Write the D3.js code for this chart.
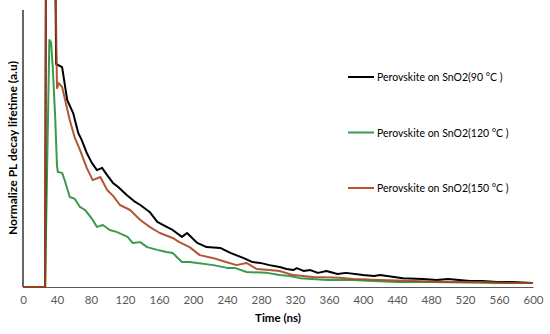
<!DOCTYPE html>
<html>
<head>
<meta charset="utf-8">
<script src="https://cdn.jsdelivr.net/npm/d3@7"></script>
<style>
  body { margin: 0; background: #fff; }
  text { font-family: Lato, "Open Sans", sans-serif; }
</style>
</head>
<body>
<script>
// time (ns) and normalized intensity
var blackT = [0, 26, 27, 38, 39, 46, 52, 59, 65, 69, 75, 81, 87, 93, 99, 106, 112, 122, 132, 138, 149, 158, 169, 176, 187, 193, 205, 216, 232, 244, 259, 270, 279, 290, 302, 310, 318, 322, 330, 338, 347, 357, 370, 380, 400, 413, 420, 447, 470, 487, 500, 526, 540, 558, 575, 600];
var blackV = [0, 0, 1.15, 1.15, 0.805, 0.794, 0.675, 0.628, 0.556, 0.531, 0.484, 0.448, 0.422, 0.430, 0.404, 0.375, 0.361, 0.332, 0.307, 0.296, 0.271, 0.235, 0.217, 0.206, 0.181, 0.195, 0.159, 0.144, 0.141, 0.123, 0.105, 0.090, 0.087, 0.079, 0.072, 0.065, 0.061, 0.068, 0.058, 0.061, 0.051, 0.058, 0.047, 0.051, 0.043, 0.040, 0.043, 0.032, 0.029, 0.025, 0.029, 0.022, 0.022, 0.018, 0.018, 0.014];

var greenT = [0, 26, 31, 33, 35, 38, 40, 41, 46, 49, 55, 61, 67, 73, 76, 82, 87, 94, 102, 110, 118, 123, 129, 138, 146, 158, 169, 176, 187, 196, 205, 224, 240, 249, 263, 287, 302, 314, 326, 358, 388, 412, 440, 480, 520, 560, 600];
var greenV = [0, 0, 0.892, 0.884, 0.794, 0.603, 0.437, 0.415, 0.412, 0.386, 0.325, 0.318, 0.289, 0.278, 0.267, 0.242, 0.217, 0.224, 0.206, 0.199, 0.188, 0.181, 0.159, 0.162, 0.144, 0.134, 0.126, 0.123, 0.090, 0.090, 0.087, 0.079, 0.069, 0.069, 0.054, 0.051, 0.043, 0.040, 0.032, 0.025, 0.025, 0.022, 0.018, 0.018, 0.016, 0.014, 0.014];

var redT = [0, 26, 27, 38, 40, 42, 46, 55, 61, 67, 75, 82, 91, 99, 106, 114, 126, 138, 149, 161, 176, 184, 196, 208, 223, 235, 251, 263, 275, 290, 302, 318, 341, 373, 388, 420, 460, 500, 540, 580, 600];
var redV = [0, 0, 1.15, 1.15, 0.718, 0.736, 0.722, 0.603, 0.538, 0.495, 0.430, 0.386, 0.397, 0.350, 0.329, 0.296, 0.278, 0.242, 0.217, 0.195, 0.177, 0.162, 0.144, 0.115, 0.105, 0.094, 0.079, 0.087, 0.065, 0.061, 0.058, 0.043, 0.036, 0.033, 0.029, 0.025, 0.022, 0.018, 0.018, 0.014, 0.014];

var seriesNames = ["Perovskite on SnO2(90 °C )", "Perovskite on SnO2(120 °C )", "Perovskite on SnO2(150 °C )"];
var xTicks = [0, 40, 80, 120, 160, 200, 240, 280, 320, 360, 400, 440, 480, 520, 560, 600];

var width = 550, height = 334;
var margin = { top: 10, right: 17, bottom: 47, left: 23 };

var svg = d3.select("body").append("svg")
  .attr("width", width)
  .attr("height", height);

var x = d3.scaleLinear().domain([0, 600]).range([margin.left, width - margin.right]);
var y = d3.scaleLinear().domain([0, 1]).range([height - margin.bottom, margin.top]);

// axes
svg.append("line")
  .attr("x1", x(0)).attr("x2", x(0))
  .attr("y1", y(1)).attr("y2", y(0))
  .attr("stroke", "#000").attr("stroke-width", 1.2);

var xAxis = svg.append("g")
  .attr("transform", "translate(0," + y(0) + ")")
  .call(d3.axisBottom(x).tickValues(xTicks).tickSize(0).tickPadding(9).tickFormat(d3.format("d")));
xAxis.select(".domain").attr("stroke", "#595959").attr("stroke-width", 1.2);
xAxis.selectAll("text").attr("font-size", 11.5).attr("fill", "#595959")
  .style("font-family", "Lato, 'Open Sans', sans-serif");

svg.append("text")
  .attr("x", (x(0) + x(600)) / 2)
  .attr("y", 322)
  .attr("text-anchor", "middle")
  .attr("font-size", 11.5)
  .attr("font-weight", "bold")
  .text("Time (ns)");

svg.append("text")
  .attr("transform", "translate(17,148) rotate(-90)")
  .attr("text-anchor", "middle")
  .attr("font-size", 10.5)
  .attr("font-weight", "bold")
  .attr("textLength", 174)
  .attr("lengthAdjust", "spacingAndGlyphs")
  .text("Normalize PL decay lifetime (a.u)");

// curves
var colors = ["#000000", "#3c9a4c", "#a8451f"];
var series = [
  { t: blackT, v: blackV, c: colors[0] },
  { t: greenT, v: greenV, c: colors[1] },
  { t: redT, v: redV, c: colors[2] }
];

var line = d3.line()
  .x(function(d) { return x(d[0]); })
  .y(function(d) { return y(d[1]); });

[1, 0, 2].forEach(function(i) {
  var s = series[i];
  svg.append("path")
    .datum(d3.zip(s.t, s.v))
    .attr("d", line)
    .attr("fill", "none")
    .attr("stroke", s.c)
    .attr("stroke-opacity", i == 2 ? 0.9 : 1)
    .attr("stroke-width", 2)
    .attr("stroke-linejoin", "round");
});

// legend
var legend = svg.selectAll(".legend")
  .data(seriesNames)
  .enter().append("g")
    .attr("transform", function(d, i) { return "translate(348," + (77 + i * 55.5) + ")"; });

legend.append("line")
  .attr("x1", 0).attr("x2", 26)
  .attr("stroke", function(d, i) { return i == 2 ? "#c0502a" : colors[i]; })
  .attr("stroke-width", 2);

legend.append("text")
  .attr("x", 29)
  .attr("y", 4)
  .attr("font-size", 10.5)
  .attr("fill", "#000")
  .text(function(d) { return d; });
</script>
</body>
</html>
